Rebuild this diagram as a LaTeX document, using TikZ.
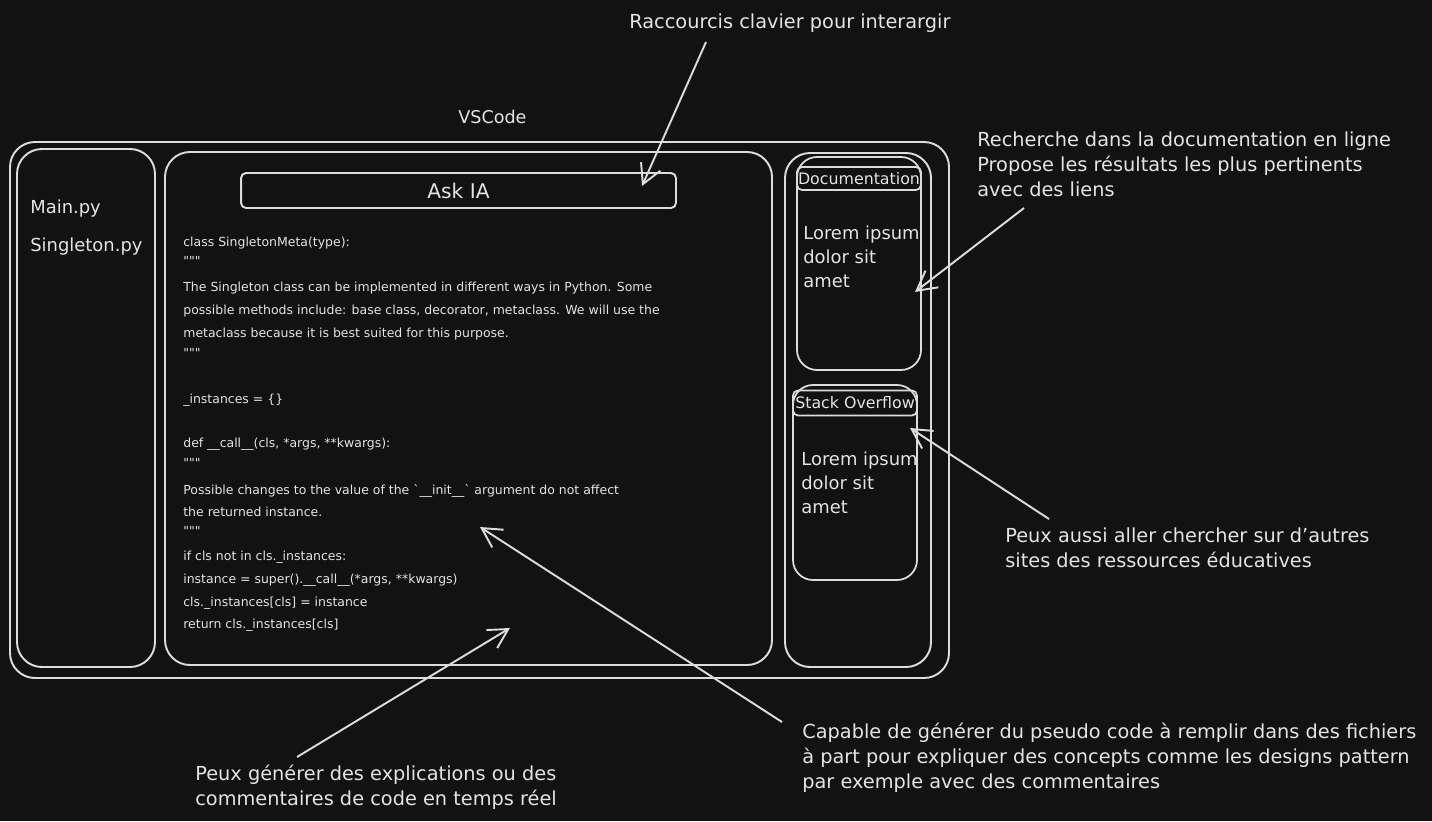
\documentclass[tikz,border=0pt]{standalone}
\usepackage{fontspec}
\setmainfont{DejaVu Sans}
\newfontfamily\codefont{DejaVu Sans}
\usetikzlibrary{arrows.meta,positioning}
\definecolor{skbg}{RGB}{18,18,18}
\definecolor{skline}{RGB}{220,220,220}
\definecolor{sktext}{RGB}{228,228,228}
\tikzstyle{frame} = [draw=skline, line width=1.1pt, rounded corners=0.5cm]
\tikzstyle{card} = [draw=skline, line width=1pt, rounded corners=0.4cm]
\tikzstyle{strip} = [draw=skline, line width=1pt, rounded corners=0.1cm, inner sep=0pt, text=sktext]
\tikzstyle{note} = [text=sktext, align=left, anchor=base west, inner sep=0pt, font=\fontsize{11}{14.2}\selectfont]
\tikzstyle{filename} = [text=sktext, anchor=base west, inner sep=0pt, font=\fontsize{10.2}{12}\selectfont]
\tikzstyle{code} = [text=sktext, anchor=base west, inner sep=0pt, font=\codefont\fontsize{7.1}{9}\selectfont]
\tikzstyle{pointer} = [draw=skline, line width=1.1pt, -{Straight Barb[length=11pt,width=12pt]}]

\begin{document}
\begin{tikzpicture}[x=0.02cm, y=-0.02cm]
\fill[skbg] (0,0) rectangle (1432,821);
\useasboundingbox (0,0) rectangle (1432,821);

% VSCode window
\node (vscode) [note, font=\fontsize{10}{12}\selectfont] at (458,123) {VSCode};
\draw[frame] (10,142) rectangle (949,678);
\draw[frame] (17,149) rectangle (155,667);
\draw[frame] (165,152) rectangle (772,665);
\draw[frame] (785,153) rectangle (931,667);

% Explorer
\node (mainpy) [filename] at (30,213) {Main.py};
\node (singletonpy) [filename] at (30,251) {Singleton.py};

% Editor
\node (askia) [strip, line width=1.1pt, minimum width=8.7cm, minimum height=0.7cm, font=\fontsize{11.5}{13}\selectfont] at (458.5,190.5) {Ask IA};
\node (c1) [code] at (183,246) {class SingletonMeta(type):};
\node (c2) [code] at (183,265) {"""};
\node (c3) [code] at (183,291) {The Singleton class can be implemented in different ways in Python. Some};
\node (c4) [code] at (183,314) {possible methods include: base class, decorator, metaclass. We will use the};
\node (c5) [code] at (183,337) {metaclass because it is best suited for this purpose.};
\node (c6) [code] at (183,357) {"""};
\node (c7) [code] at (183,403) {\_instances = \{\}};
\node (c8) [code] at (183,447) {def \_\_call\_\_(cls, *args, **kwargs):};
\node (c9) [code] at (183,467) {"""};
\node (c10) [code] at (183,494) {Possible changes to the value of the `\_\_init\_\_` argument do not affect};
\node (c11) [code] at (183,516) {the returned instance.};
\node (c12) [code] at (183,535) {"""};
\node (c13) [code] at (183,560) {if cls not in cls.\_instances:};
\node (c14) [code] at (183,583) {instance = super().\_\_call\_\_(*args, **kwargs)};
\node (c15) [code] at (183,606) {cls.\_instances[cls] = instance};
\node (c16) [code] at (183,628) {return cls.\_instances[cls]};

% Side panel
\draw[card] (797,157) rectangle (921,370);
\node (doctitle) [strip, minimum width=2.48cm, minimum height=0.46cm, font=\fontsize{9}{11}\selectfont] at (859,178.5) {Documentation};
\node (doctext) [filename, align=left, font=\fontsize{10.2}{13.6}\selectfont] at (803,287) {Lorem ipsum\\dolor sit\\amet};
\draw[card] (793,385) rectangle (917,580);
\node (sotitle) [strip, minimum width=2.48cm, minimum height=0.5cm, font=\fontsize{9}{11}\selectfont] at (855,403) {Stack Overflow};
\node (sotext) [filename, align=left, font=\fontsize{10.2}{13.6}\selectfont] at (801,513) {Lorem ipsum\\dolor sit\\amet};

% Annotations
\node (shortcuts) [note] at (629,29) {Raccourcis clavier pour interargir};
\node (docsearch) [note] at (977,196) {Recherche dans la documentation en ligne\\Propose les résultats les plus pertinents\\avec des liens};
\node (othersites) [note] at (1005,567) {Peux aussi aller chercher sur d'autres\\sites des ressources éducatives};
\node (pseudocode) [note] at (802,788) {Capable de générer du pseudo code à remplir dans des fichiers\\à part pour expliquer des concepts comme les designs pattern\\par exemple avec des commentaires};
\node (explain) [note] at (195,805) {Peux générer des explications ou des\\commentaires de code en temps réel};

\coordinate (shortcutsFrom) at (706,42);
\coordinate (askTip) at (642,186);
\coordinate (docsearchFrom) at (1024,208);
\coordinate (docTip) at (915,292);
\coordinate (othersitesFrom) at (1049,519);
\coordinate (soTip) at (910,428);
\coordinate (pseudocodeFrom) at (782,722);
\coordinate (codeTip) at (480,527);
\coordinate (explainFrom) at (297,757);
\coordinate (returnTip) at (510,628);

\draw[pointer] (shortcutsFrom) -- (askTip);
\draw[pointer] (docsearchFrom) -- (docTip);
\draw[pointer] (othersitesFrom) -- (soTip);
\draw[pointer] (pseudocodeFrom) -- (codeTip);
\draw[pointer] (explainFrom) -- (returnTip);
\end{tikzpicture}
\end{document}
